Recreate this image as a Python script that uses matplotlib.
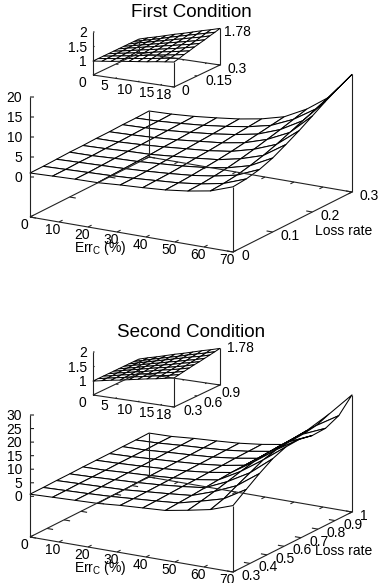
import numpy as np
import matplotlib
matplotlib.use('Agg')
import matplotlib.pyplot as plt
from matplotlib.transforms import offset_copy
from mpl_toolkits.mplot3d import proj3d

plt.rcParams['font.family'] = ['Liberation Sans', 'DejaVu Sans']
plt.rcParams['mathtext.default'] = 'regular'

W_PX, H_PX = 380, 583

# top surfaces, one row per loss rate, one column per Err_C
main_x = np.linspace(0, 70, 10)
main_y1 = np.linspace(0, 0.3, 10)
main_z1 = [
    [1.0, 1.2, 1.4, 1.5, 1.9, 2.2, 2.6, 3.3, 4.3, 6.3],
    [1.0, 1.2, 1.4, 1.6, 1.9, 2.3, 2.7, 3.4, 4.5, 6.6],
    [1.1, 1.3, 1.5, 1.7, 2.0, 2.4, 2.9, 3.7, 4.9, 7.3],
    [1.2, 1.3, 1.6, 1.8, 2.2, 2.6, 3.2, 4.1, 5.6, 8.5],
    [1.2, 1.4, 1.7, 1.9, 2.4, 2.9, 3.5, 4.7, 6.5, 10.2],
    [1.3, 1.4, 1.7, 2.1, 2.6, 3.1, 3.9, 5.4, 7.6, 12.0],
    [1.3, 1.5, 1.8, 2.2, 2.8, 3.4, 4.4, 6.2, 8.9, 14.0],
    [1.4, 1.6, 1.9, 2.4, 3.0, 3.8, 4.9, 7.0, 10.2, 16.0],
    [1.4, 1.6, 2.0, 2.5, 3.2, 4.1, 5.4, 7.9, 11.5, 17.8],
    [1.5, 1.7, 2.1, 2.7, 3.4, 4.4, 5.9, 8.8, 12.8, 19.4],
]
main_y2 = np.linspace(0.3, 1.0, 10)
main_z2 = [
    [0.8, 1.1, 1.4, 1.7, 2.4, 2.9, 3.4, 4.9, 6.6, 9.5],
    [0.8, 1.1, 1.4, 1.8, 2.4, 3.0, 3.7, 5.8, 8.1, 13.0],
    [0.9, 1.2, 1.5, 1.8, 2.5, 3.2, 4.0, 6.9, 10.5, 16.4],
    [0.9, 1.2, 1.6, 2.0, 2.6, 3.4, 4.4, 8.1, 12.8, 19.4],
    [1.0, 1.2, 1.7, 2.1, 2.7, 3.5, 4.8, 9.4, 15.1, 21.3],
    [1.0, 1.3, 1.7, 2.2, 2.8, 3.7, 5.1, 10.5, 16.4, 21.6],
    [1.0, 1.3, 1.8, 2.3, 2.9, 3.8, 5.3, 11.2, 16.9, 20.6],
    [1.1, 1.3, 1.9, 2.4, 3.0, 4.0, 5.4, 11.6, 17.2, 20.8],
    [1.1, 1.4, 2.0, 2.5, 3.1, 4.1, 5.5, 11.8, 17.9, 23.0],
    [1.2, 1.4, 2.1, 2.6, 3.2, 4.2, 5.6, 12.2, 19.8, 28.2],
]

# inset surfaces
inset_x = np.linspace(0, 18, 10)
inset_y1 = np.linspace(0, 0.3, 10)
inset_z1 = [
    [1.00, 1.04, 1.08, 1.13, 1.17, 1.21, 1.25, 1.30, 1.34, 1.38],
    [1.00, 1.05, 1.09, 1.14, 1.19, 1.23, 1.28, 1.33, 1.38, 1.42],
    [1.00, 1.05, 1.10, 1.15, 1.20, 1.26, 1.31, 1.36, 1.41, 1.47],
    [1.00, 1.06, 1.11, 1.17, 1.22, 1.28, 1.34, 1.39, 1.45, 1.51],
    [1.00, 1.06, 1.12, 1.18, 1.24, 1.30, 1.36, 1.42, 1.49, 1.56],
    [1.00, 1.07, 1.13, 1.20, 1.26, 1.33, 1.39, 1.46, 1.52, 1.60],
    [1.00, 1.07, 1.14, 1.21, 1.28, 1.35, 1.42, 1.49, 1.56, 1.64],
    [1.00, 1.08, 1.15, 1.23, 1.30, 1.38, 1.45, 1.53, 1.60, 1.69],
    [1.00, 1.08, 1.16, 1.24, 1.33, 1.41, 1.49, 1.57, 1.65, 1.73],
    [1.00, 1.09, 1.17, 1.26, 1.35, 1.43, 1.52, 1.61, 1.69, 1.78],
]
inset_y2 = np.linspace(0.3, 0.9, 10)
inset_z2 = [
    [1.00, 1.06, 1.12, 1.17, 1.23, 1.29, 1.35, 1.40, 1.46, 1.52],
    [1.00, 1.06, 1.12, 1.18, 1.24, 1.30, 1.36, 1.42, 1.48, 1.55],
    [1.00, 1.06, 1.13, 1.19, 1.25, 1.31, 1.38, 1.44, 1.50, 1.58],
    [1.00, 1.07, 1.13, 1.20, 1.26, 1.33, 1.40, 1.46, 1.53, 1.61],
    [1.00, 1.07, 1.14, 1.21, 1.28, 1.35, 1.41, 1.48, 1.55, 1.64],
    [1.00, 1.07, 1.14, 1.22, 1.29, 1.36, 1.43, 1.51, 1.58, 1.66],
    [1.00, 1.08, 1.15, 1.23, 1.30, 1.38, 1.45, 1.53, 1.60, 1.69],
    [1.00, 1.08, 1.16, 1.24, 1.32, 1.40, 1.48, 1.56, 1.63, 1.72],
    [1.00, 1.08, 1.17, 1.25, 1.33, 1.41, 1.50, 1.58, 1.66, 1.75],
    [1.00, 1.09, 1.17, 1.26, 1.35, 1.43, 1.52, 1.61, 1.69, 1.78],
]

# ticks
main_xticks = [0, 10, 20, 30, 40, 50, 60, 70]
main_yticks1 = [0, 0.1, 0.2, 0.3]
main_ylabels1 = ['0', '0.1', '0.2', '0.3']
main_zticks1 = [0, 5, 10, 15, 20]
main_yticks2 = [0.3, 0.4, 0.5, 0.6, 0.7, 0.8, 0.9, 1.0]
main_ylabels2 = ['0.3', '0.4', '0.5', '0.6', '0.7', '0.8', '0.9', '1']
main_zticks2 = [0, 5, 10, 15, 20, 25, 30]
inset_xticks = [0, 5, 10, 15, 18]
inset_yticks1 = [0, 0.15, 0.3]
inset_ylabels1 = ['0', '0.15', '0.3']
inset_yticks2 = [0.3, 0.6, 0.9]
inset_ylabels2 = ['0.3', '0.6', '0.9']
inset_zticks = [1, 1.5, 2]
inset_zlabels = ['1', '1.5', '2']

fig = plt.figure(figsize=(W_PX / 100, H_PX / 100), dpi=100)


def make_box(left, front, right, height):
    # gnuplot style box: work out the view from where the floor corners sit in the picture
    vx = (front[0] - left[0], front[1] - left[1])
    vy = (right[0] - front[0], front[1] - right[1])
    r1 = vx[1] / vx[0]
    r2 = vy[1] / vy[0]
    sin_e = np.sqrt(r1 * r2)
    az = np.arctan(sin_e / r1)
    lx = vx[0] / np.sin(az)
    ly = vy[0] / np.cos(az)
    lz = height / np.sqrt(1 - sin_e ** 2)
    w = 1.85 * np.linalg.norm([lx, ly, lz]) / (1.8294640721620434 * 25 / 24)
    cx = (left[0] + right[0]) / 2
    cy = (left[1] + right[1]) / 2 - height / 2
    x0 = cx - w * 0.95 / 1.85
    y0 = H_PX - cy - w * 0.95 / 1.85
    ax = fig.add_axes([x0 / W_PX, y0 / H_PX, w / W_PX, w / H_PX],
                      projection='3d', proj_type='ortho', computed_zorder=False)
    ax.set_axis_off()
    ax.patch.set_visible(False)
    ax.view_init(elev=np.degrees(np.arcsin(sin_e)), azim=-np.degrees(az))
    ax.set_box_aspect((lx, ly, lz))
    return ax


def label(ax, x, y, z, s, dx, dy, **kw):
    # project by hand so the text is a plain 2D text, then nudge in pixels
    px, py, _ = proj3d.proj_transform(x, y, z, ax.get_proj())
    tr = offset_copy(ax.transData, fig=fig, x=dx, y=dy - 1, units='dots')
    ax.text2D(px, py, s, transform=tr, fontsize=10, va='center', **kw)


def panel(ax, x, y, z, zlim, xticks, yticks, ylabels, zticks, zlabels, lw, xoff, yoff, zoff, xha):
    z = np.array(z)
    ax.set_xlim(x[0], x[-1], view_margin=0)
    ax.set_ylim(y[0], y[-1], view_margin=0)
    ax.set_zlim(zlim[0], zlim[1], view_margin=0)
    X, Y = np.meshgrid(x, y)
    ax.plot_surface(X, Y, z, rstride=1, cstride=1, color='white', edgecolor='black',
                    linewidth=lw, shade=False, zorder=2)

    x0, x1, y0, y1, zb, zt = x[0], x[-1], y[0], y[-1], zlim[0], zlim[1]
    b = dict(color='#222222', lw=0.8, zorder=3, solid_capstyle='butt')
    # floor
    ax.plot([x0, x1, x1, x0, x0], [y0, y0, y1, y1, y0], [zb] * 5, **b)
    # verticals
    ax.plot([x0, x0], [y0, y0], [zb, zt], **b)
    ax.plot([x1, x1], [y0, y0], [zb, z[0, -1]], **b)
    ax.plot([x1, x1], [y1, y1], [zb, z[-1, -1]], **b)
    ax.plot([x0, x0], [y1, y1], [zb, z[-1, 0]], **b)

    # ticks, inward and mirrored on the far side
    tx = 0.03 * (y1 - y0)
    ty = 0.03 * (x1 - x0)
    for t, o in zip(xticks, xoff):
        ax.plot([t, t], [y0, y0 + tx], [zb, zb], **b)
        ax.plot([t, t], [y1, y1 - tx], [zb, zb], **b)
        label(ax, t, y0, zb, str(t), o, -7, ha=xha)
    for t, s, o in zip(yticks, ylabels, yoff):
        ax.plot([x1, x1 - ty], [t, t], [zb, zb], **b)
        ax.plot([x0, x0 + ty], [t, t], [zb, zb], **b)
        label(ax, x1, t, zb, s, o[0], o[1], ha='left')
    # z ticks point straight right on screen
    for t, s in zip(zticks, zlabels):
        ax.plot([x0, x0 + 0.0147 * (x1 - x0)], [y0, y0 + 0.0086 * (y1 - y0)], [t, t], **b)
        label(ax, x0, y0, t, s, zoff, 0, ha='right')


def main_panel(shift, y, z, zlim, yticks, ylabels, zticks, title, loss_anchor):
    ax = make_box((30, 217 + shift), (233, 252 + shift), (352, 192 + shift), 120 if shift == 0 else 122)
    yoff = [(8, -3)] * len(yticks)
    panel(ax, main_x, y, z, zlim, main_xticks, yticks, ylabels, zticks,
          [str(t) for t in zticks], 0.75, [-6] * 8, yoff, -8, 'center')
    label(ax, main_x[-1], loss_anchor, zlim[0], 'Loss rate', 51.5, -8, ha='center')
    label(ax, 35, y[0], zlim[0], 'Err$_{C}$ (%)', -31, -12.5, ha='center')
    fig.text(191 / W_PX, 1 - (12.5 + shift) / H_PX, title, fontsize=13.6, ha='center', va='center')


def inset_panel(shift, y, z, yticks, ylabels, yoff, toplab):
    ax = make_box((93, 75 + shift), (174, 87 + shift), (220, 65 + shift), 43)
    panel(ax, inset_x, y, z, (0.52, 2.0), inset_xticks, yticks, ylabels, inset_zticks,
          inset_zlabels, 0.7, [-7, -7.5, -6, -6.5, -3], yoff, -6, 'right')
    label(ax, inset_x[-1], y[-1], z[-1][-1], '1.78', toplab[0], toplab[1], ha='left')


main_panel(0, main_y1, main_z1, (-10, 20), main_yticks1, main_ylabels1, main_zticks1,
           'First Condition', 0.15)
inset_panel(0, inset_y1, inset_z1, inset_yticks1, inset_ylabels1,
            [(7, -3), (8, -4), (8, -3)], (4, -3))

main_panel(320, main_y2, main_z2, (-15, 30), main_yticks2, main_ylabels2, main_zticks2,
           'Second Condition', 0.65)
inset_panel(320, inset_y2, inset_z2, inset_yticks2, inset_ylabels2,
            [(9, -3), (6, -6), (2, -7)], (7, 1))

fig.savefig('out.png', dpi=100)
